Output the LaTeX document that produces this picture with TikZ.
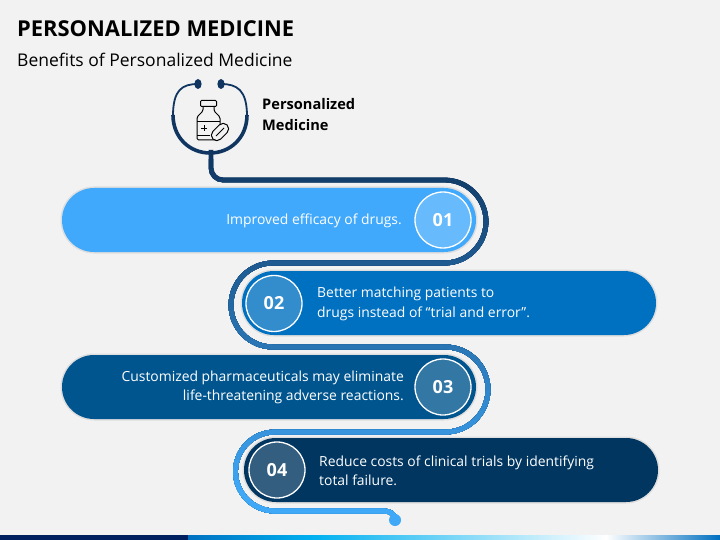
\documentclass[tikz,border=0pt]{standalone}
\usepackage{fontspec}
\setmainfont{Open Sans}
\usetikzlibrary{positioning,calc}
\definecolor{pagebg}{HTML}{F2F2F2}
\definecolor{tubetop}{HTML}{0F3560}
\definecolor{tubeend}{HTML}{3FA9F8}
\definecolor{navy}{HTML}{0F3560}
\definecolor{barnavy}{HTML}{002060}
\definecolor{barsky}{HTML}{00B0F0}
\definecolor{pillone}{HTML}{41A9FC}
\definecolor{pilltwo}{HTML}{0070C0}
\definecolor{pillthree}{HTML}{00558F}
\definecolor{pillfour}{HTML}{003660}
\tikzset{
  pill/.style={minimum width=414pt,minimum height=64pt,rounded corners=32pt,
    preaction={draw=black!13,line width=3pt}},
  badge/.style={circle,draw=white,line width=1.3pt,minimum size=56pt,inner sep=0pt,
    text=white,font=\bfseries\fontsize{18}{20}\selectfont,fill=white,fill opacity=.2,text opacity=1},
  pilltext/.style={text=white,font=\fontsize{13.9}{19.3}\selectfont,inner sep=0pt},
  iconline/.style={draw=black,line width=1pt,line join=round},
}
\newcommand{\tubepath}{(211,150) -- (211,168) arc[start angle=180,end angle=270,x radius=12,y radius=-12]
  -- (444.5,180) arc[start angle=90,end angle=-90,x radius=41.5,y radius=-41.5]
  -- (273,263) arc[start angle=90,end angle=270,x radius=42,y radius=-42]
  -- (445.5,347) arc[start angle=90,end angle=-90,x radius=42.5,y radius=-42.5]
  -- (275,432) arc[start angle=90,end angle=270,x radius=39.5,y radius=-39.5]
  -- (384,511) .. controls (390,511) and (395,514) .. (395,520)}
\begin{document}
\begin{tikzpicture}[x=1pt,y=-1pt]
  % draw background
  \fill[pagebg] (0,0) rectangle (720,540);
  \useasboundingbox (0,0) rectangle (720,540);
  % draw bottom bar
  \fill[barnavy] (0,535) rectangle (188,540);
  \shade[left color=pilltwo,right color=barsky] (188,535) rectangle (312,540);
  \shade[left color=barsky,right color=white] (312,535) rectangle (606,540);
  \shade[left color=white,right color=pilltwo] (606,535) rectangle (720,540);
  % draw title
  \node[anchor=west,inner sep=0pt,font=\bfseries\fontsize{21.9}{24}\selectfont] (title) at (17,29) {PERSONALIZED MEDICINE};
  \node[anchor=west,inner sep=0pt,font=\fontsize{17.5}{20}\selectfont] (subtitle) at (17,60) {Benefits of Personalized Medicine};
  % draw tube in colour bands
  \foreach \i in {0,...,34} {
    \pgfmathsetmacro{\pct}{\i/34*100}
    \pgfmathsetmacro{\ytop}{150+\i*10}
    \colorlet{tubeband}{tubeend!\pct!tubetop}
    \begin{scope}
      \clip (200,\ytop) rectangle (500,530);
      \draw[tubeband,line width=4.8pt] \tubepath;
    \end{scope}
  }
  \node[circle,fill=tubeend,minimum size=12pt,inner sep=0pt] (tubedot) at (395,520) {};
  % draw pills
  \node[pill,fill=pillone] (pillA) at (269,220) {};
  \node[pill,fill=pilltwo] (pillB) at (449,303) {};
  \node[pill,fill=pillthree] (pillC) at (269,387) {};
  \node[pill,fill=pillfour] (pillD) at (451,470) {};
  % draw badges
  \node[badge] (badgeA) at (443,220) {01};
  \node[badge] (badgeB) at (274,303.5) {02};
  \node[badge] (badgeC) at (443,387) {03};
  \node[badge] (badgeD) at (277,470) {04};
  % draw texts
  \node[pilltext,anchor=east] (textA) at (402,220.5) {Improved efficacy of drugs.};
  \node[pilltext,anchor=west,align=left] (textB) at (317,304) {Better matching patients to\\drugs instead of “trial and error”.};
  \node[pilltext,anchor=east,align=right] (textC) at (404,387.5) {Customized pharmaceuticals may eliminate\\life-threatening adverse reactions.};
  \node[pilltext,anchor=west,align=left] (textD) at (319,471) {Reduce costs of clinical trials by identifying\\total failure.};
  \node[anchor=west,align=left,inner sep=0pt,font=\bfseries\fontsize{14.6}{21}\selectfont] (heading) at (262,115) {Personalized\\Medicine};
  % draw stethoscope
  \draw[navy,line width=1.8pt] (198,84) .. controls (182,84) and (173,90) .. (173,116);
  \draw[navy,line width=1.8pt] (221,84) .. controls (237,84) and (247,90) .. (247,116);
  \fill[navy] (198,84) ellipse[x radius=3.6,y radius=5];
  \fill[navy] (221,84) ellipse[x radius=3.6,y radius=5];
  \draw[navy,line width=3.6pt] (173,115) .. controls (173,138) and (190,153) .. (210,153) .. controls (230,153) and (247,138) .. (247,115);
  % draw bottle
  \draw[iconline,rounded corners=1pt] (200.5,100.5) rectangle (216.5,106.5);
  \draw[iconline,rounded corners=1.5pt] (203,106.5) -- (203,111) -- (197,117) -- (197,140) -- (216,140);
  \draw[iconline,rounded corners=1.5pt] (214,106.5) -- (214,111) -- (220,117) -- (220,125);
  \draw[iconline] (197,122) -- (220,122);
  \draw[iconline] (197,136) -- (210,136);
  \draw[iconline] (201,128.5) -- (207,128.5) (204,125.5) -- (204,131.5);
  % draw capsule
  \draw[iconline,fill=pagebg,rounded corners=5.5pt,rotate around={45:(220,132)}] (210,126.5) rectangle (230,137.5);
  \draw[iconline] (216,136) -- (224,128);
\end{tikzpicture}
\end{document}
